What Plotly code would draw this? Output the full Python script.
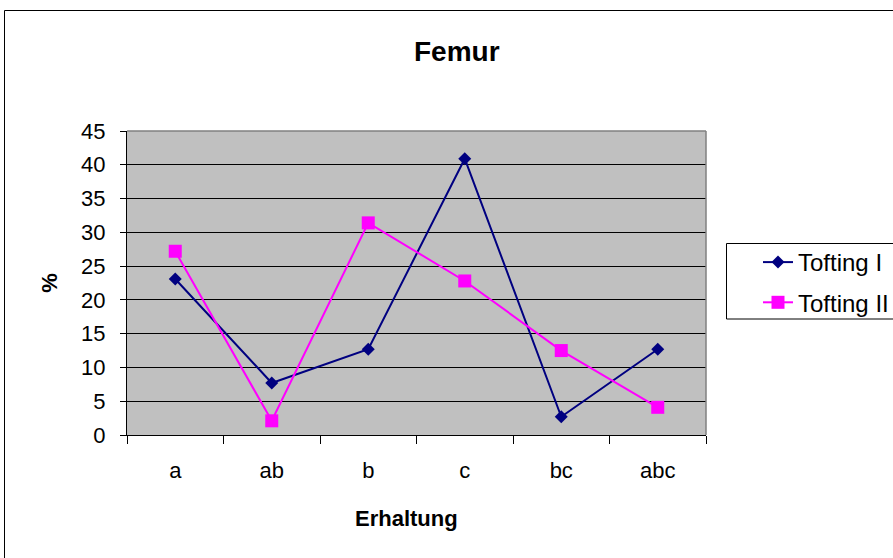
import plotly.graph_objects as go

categories = ["a", "ab", "b", "c", "bc", "abc"]
tofting_1 = [23.1, 7.7, 12.7, 40.9, 2.7, 12.7]
tofting_2 = [27.2, 2.1, 31.4, 22.8, 12.5, 4.1]
series_names = ["Tofting I", "Tofting II"]
y_ticks = [0, 5, 10, 15, 20, 25, 30, 35, 40, 45]

W, H = 893, 558
# plot area in screen px (body margin removed via post_script)
SL, SR, ST, SB = 127, 706, 131, 435

def px_x(sx):
    return (sx - SL) / (SR - SL)

def px_y(sy):
    return (SB - sy) / (SB - ST)

FONT = "Arial, Liberation Sans, sans-serif"

fig = go.Figure()
fig.add_trace(go.Scatter(
    x=categories, y=tofting_1, name=series_names[0], mode="lines+markers",
    line=dict(color="#000080", width=2),
    marker=dict(symbol="diamond", size=10, color="#000080"),
    legendgroup="g1",
))
fig.add_trace(go.Scatter(
    x=categories, y=tofting_2, name=series_names[1], mode="lines+markers",
    line=dict(color="#FF00FF", width=2),
    marker=dict(symbol="square", size=13, color="#FF00FF"),
    legendgroup="g2",
))

fig.update_layout(
    width=W, height=H,
    margin=dict(l=SL, r=W - SR, t=ST, b=H - SB, pad=0, autoexpand=False),
    paper_bgcolor="white",
    plot_bgcolor="#C0C0C0",
    font=dict(family=FONT, color="black", size=22),
    showlegend=True,
    legend=dict(
        x=px_x(758), y=px_y(240), xanchor="left", yanchor="top",
        bgcolor="rgba(0,0,0,0)", borderwidth=0,
        font=dict(family=FONT, size=24, color="black"),
        tracegroupgap=6,
    ),
    xaxis=dict(
        type="category", range=[-0.5, 5.5],
        showgrid=False, zeroline=False,
        showline=True, linecolor="black", linewidth=1,
        ticks="outside", ticklen=8, tickcolor="black", tickson="boundaries",
        ticklabelstandoff=16,
        tickfont=dict(family=FONT, size=22, color="black"),
        fixedrange=True,
    ),
    yaxis=dict(
        range=[0, 45], tickvals=y_ticks,
        showgrid=True, gridcolor="black", gridwidth=1,
        zeroline=False,
        showline=True, linecolor="black", linewidth=1,
        ticks="outside", ticklen=6, tickcolor="black",
        ticklabelstandoff=10,
        tickfont=dict(family=FONT, size=22, color="black"),
        title=dict(text="<b>%</b>", font=dict(family=FONT, size=22), standoff=17),
        fixedrange=True,
    ),
    annotations=[
        dict(text="<b>Femur</b>", x=px_x(457), y=px_y(51), xref="paper", yref="paper",
             xanchor="center", yanchor="middle", showarrow=False,
             font=dict(family=FONT, size=28, color="black")),
        dict(text="<b>Erhaltung</b>", x=px_x(406), y=px_y(518), xref="paper", yref="paper",
             xanchor="center", yanchor="middle", showarrow=False,
             font=dict(family=FONT, size=22, color="black")),
    ],
    shapes=[
        # outer chart border (extends past right/bottom edges)
        dict(type="rect", xref="paper", yref="paper",
             x0=px_x(4.5), y0=px_y(10.5), x1=px_x(920), y1=px_y(590),
             line=dict(color="black", width=1), fillcolor="rgba(0,0,0,0)", layer="below"),
        # plot area top/right gray border
        dict(type="line", xref="paper", yref="paper", x0=0, y0=1, x1=1, y1=1,
             line=dict(color="#808080", width=1.5), layer="above"),
        dict(type="line", xref="paper", yref="paper", x0=1, y0=0, x1=1, y1=1,
             line=dict(color="#808080", width=1.5), layer="above"),
        # legend box (extends past right edge)
        dict(type="rect", xref="paper", yref="paper",
             x0=px_x(726.5), y0=px_y(243.5), x1=px_x(920), y1=px_y(319),
             line=dict(color="black", width=1), fillcolor="rgba(0,0,0,0)", layer="above"),
    ],
)

fig.write_html(
    "out.html",
    config={"displayModeBar": False},
    post_script="document.body.style.margin='0';document.body.style.overflow='hidden';",
)
